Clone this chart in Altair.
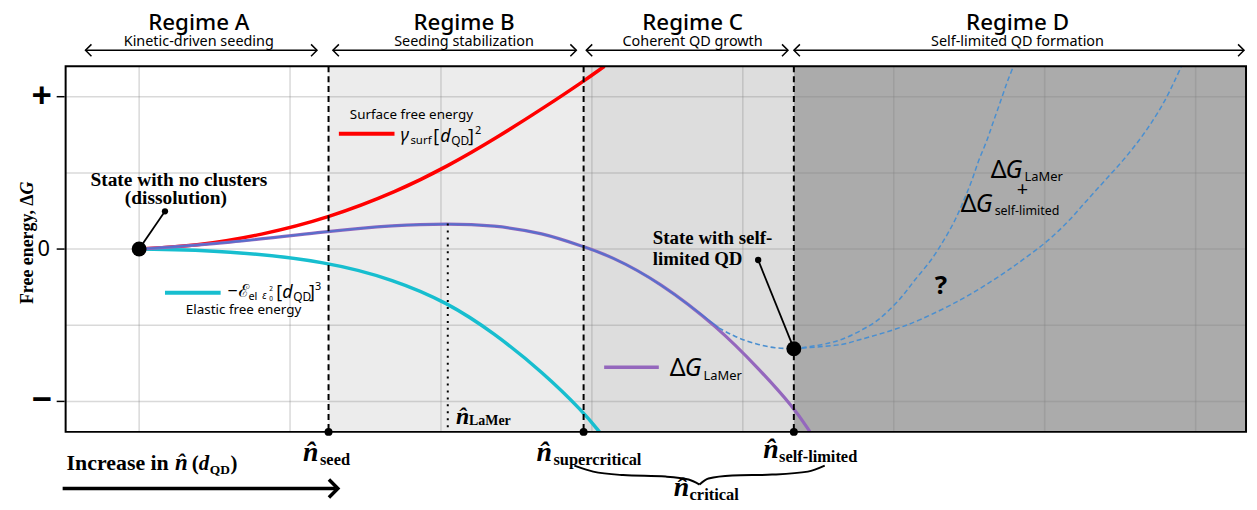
import altair as alt
import pandas as pd

# ---------------- data (x in n-hat grid steps, y in free-energy grid steps) ----------------
surf_x = [0.0, 0.373, 0.810, 1.255, 1.712, 2.041, 2.370, 2.699, 2.945, 3.083]
surf_y = [0.0, 0.039, 0.183, 0.408, 0.757, 1.083, 1.461, 1.878, 2.204, 2.400]

elastic_x = [0.0, 0.592, 1.255, 1.690, 2.041, 2.348, 2.677, 2.945, 3.050]
elastic_y = [0.0, -0.020, -0.166, -0.404, -0.700, -1.096, -1.621, -2.142, -2.400]

lamer_x = [0.0, 0.592, 1.255, 1.690, 2.045, 2.348, 2.677, 2.945, 3.116, 3.445, 3.840, 4.103, 4.338, 4.444]
lamer_y = [0.0, 0.078, 0.235, 0.313, 0.335, 0.313, 0.213, 0.030, -0.085, -0.426, -1.034, -1.565, -2.080, -2.396]

selflim_x = [3.840, 3.950, 4.103, 4.213, 4.338]
selflim_y = [-1.034, -1.147, -1.252, -1.295, -1.308]

band_y = [-1.308, -1.252, -1.187, -1.056, -0.926, -0.665, -0.404, -0.143, 0.117, 0.378,
          0.639, 0.900, 1.161, 1.422, 1.683, 1.943, 2.204, 2.400]
band_upper_x = [4.338, 4.529, 4.654, 4.793, 4.898, 5.036, 5.141, 5.247, 5.332, 5.405,
                5.464, 5.517, 5.563, 5.616, 5.662, 5.708, 5.754, 5.793]
band_lower_x = [4.338, 4.654, 4.779, 5.003, 5.175, 5.444, 5.662, 5.853, 6.024, 6.162,
                6.280, 6.399, 6.517, 6.623, 6.715, 6.794, 6.860, 6.906]

regime_names = ["Regime A", "Regime B", "Regime C", "Regime D"]
regime_desc = ["Kinetic-driven seeding", "Seeding stabilization", "Coherent QD growth", "Self-limited QD formation"]
boundary_names = ["seed", "supercritical", "self-limited"]
boundary_x = [1.255, 2.945, 4.338]
lamer_peak = (2.045, 0.335)
start_state = (0.0, 0.0)
min_state = (4.338, -1.308)
grid_x = [0, 1, 2, 3, 4, 5, 6, 7]
grid_y = [-2, -1, 0, 1, 2]
y_ticks = [2, 0, -2]
y_tick_labels = ["+", "0", "\u2212"]
region_colors = ["#ffffff", "#ececec", "#dddddd", "#ababab"]

X_DOMAIN = [-0.487, 7.334]
Y_DOMAIN = [-2.4, 2.4]
W, H = 1188, 368
X0, Y0 = 66, 65  # page pixel of the plot origin
SANS = "Noto Sans"
SERIF = "Liberation Serif"

xs = alt.Scale(domain=X_DOMAIN, nice=False, zero=False)
ys = alt.Scale(domain=Y_DOMAIN, nice=False, zero=False)


def XQ(f):
    return alt.X(f, type="quantitative", scale=xs, axis=None)


def YQ(f):
    return alt.Y(f, type="quantitative", scale=ys, axis=None)


def px2x(px):
    return X_DOMAIN[0] + (px - X0) / W * (X_DOMAIN[1] - X_DOMAIN[0])


def px2y(py):
    return Y_DOMAIN[1] - (py - Y0) / H * (Y_DOMAIN[1] - Y_DOMAIN[0])


one = pd.DataFrame({"k": [0]})


def T(s, px, py, size=14, font=SANS, weight="normal", style="normal",
      align="left", baseline="alphabetic", angle=None):
    kw = dict(text=s, fontSize=size, font=font, fontWeight=weight, fontStyle=style,
              align=align, baseline=baseline, color="black")
    if angle is not None:
        kw["angle"] = angle
    return alt.Chart(one).mark_text(**kw).encode(x=alt.value(px - X0), y=alt.value(py - Y0))


def R(x1, y1, x2, y2, w=1.5, color="black"):
    return alt.Chart(one).mark_rule(color=color, strokeWidth=w).encode(
        x=alt.value(x1 - X0), x2=alt.value(x2 - X0), y=alt.value(y1 - Y0), y2=alt.value(y2 - Y0))


def chevron(px, py, direction, size, w):
    shape = "M-1,-1L0,0L-1,1" if direction == "right" else "M1,-1L0,0L1,1"
    return alt.Chart(one).mark_point(shape=shape, size=size, filled=False, strokeWidth=w,
                                     color="black", opacity=1).encode(
        x=alt.value(px - X0), y=alt.value(py - Y0))


def curve(xv, yv):
    return pd.DataFrame({"x": xv, "y": yv, "i": list(range(len(xv)))})


layers = []

# backgrounds of the regimes
bg = pd.DataFrame({"x0": [X_DOMAIN[0]] + boundary_x, "x1": boundary_x + [X_DOMAIN[1]], "c": region_colors})
layers.append(alt.Chart(bg).mark_rect().encode(
    x=XQ("x0"), x2="x1", y=alt.value(0), y2=alt.value(H), color=alt.Color("c:N", scale=None)))

# uncertain self-limited band
band = pd.DataFrame({"y": band_y, "xu": band_upper_x, "xl": band_lower_x, "i": list(range(len(band_y)))})
layers.append(alt.Chart(band).mark_area(orient="horizontal", interpolate="catmull-rom", color="#9dadd5",
                                        opacity=1, clip=True).encode(
    y=YQ("y"), x=XQ("xu"), x2="xl", order="i:Q"))

# grid
layers.append(alt.Chart(pd.DataFrame({"g": grid_x})).mark_rule(color="#808080", opacity=0.3, strokeWidth=1.5).encode(
    x=XQ("g"), y=alt.value(0), y2=alt.value(H)))
layers.append(alt.Chart(pd.DataFrame({"g": grid_y})).mark_rule(color="#808080", opacity=0.3, strokeWidth=1.5).encode(
    y=YQ("g"), x=alt.value(0), x2=alt.value(W)))

# curves
layers.append(alt.Chart(curve(surf_x, surf_y)).mark_line(color="#ff0000", strokeWidth=3.5, interpolate="basis",
                                                         clip=True).encode(x=XQ("x"), y=YQ("y"), order="i:Q"))
layers.append(alt.Chart(curve(elastic_x, elastic_y)).mark_line(color="#17becf", strokeWidth=3.5, interpolate="basis",
                                                               clip=True).encode(x=XQ("x"), y=YQ("y"), order="i:Q"))
layers.append(alt.Chart(curve(lamer_x, lamer_y)).mark_line(color="#9467bd", strokeWidth=3.2, interpolate="basis",
                                                           clip=True).encode(x=XQ("x"), y=YQ("y"), order="i:Q"))
n_shared = lamer_x.index(selflim_x[0]) + 1
layers.append(alt.Chart(curve(lamer_x[:n_shared], lamer_y[:n_shared])).mark_line(
    color="#4a72d0", strokeWidth=1.8, opacity=0.85, interpolate="basis").encode(x=XQ("x"), y=YQ("y"), order="i:Q"))
layers.append(alt.Chart(curve(selflim_x, selflim_y)).mark_line(
    color="#4a8fd0", strokeWidth=1.6, strokeDash=[5, 3], interpolate="monotone").encode(x=XQ("x"), y=YQ("y"), order="i:Q"))
for col in ["xu", "xl"]:
    layers.append(alt.Chart(band).mark_line(color="#4a8fd0", strokeWidth=1.5, strokeDash=[5, 3],
                                            interpolate="catmull-rom", clip=True).encode(
        x=XQ(col), y=YQ("y"), order="i:Q"))

# legend samples
layers.append(R(341, 133, 397, 133, w=4, color="#ff0000"))
layers.append(R(166, 293, 222, 293, w=4, color="#17becf"))
layers.append(R(608, 368, 663, 368, w=3.5, color="#9467bd"))

# boundaries
layers.append(alt.Chart(pd.DataFrame({"x": boundary_x, "n": boundary_names})).mark_rule(
    color="black", strokeDash=[6, 4], strokeWidth=2).encode(x=XQ("x"), y=alt.value(0), y2=alt.value(H)))
layers.append(alt.Chart(pd.DataFrame({"x": [lamer_peak[0]], "y": [lamer_peak[1]], "y2": [Y_DOMAIN[0]]})).mark_rule(
    color="black", strokeDash=[2, 5], strokeWidth=2).encode(x=XQ("x"), y=YQ("y"), y2="y2"))
layers.append(alt.Chart(pd.DataFrame({"x": boundary_x, "y": [Y_DOMAIN[0]] * 3})).mark_circle(
    size=64, color="black", opacity=1).encode(x=XQ("x"), y=YQ("y")))

# frame
layers.append(alt.Chart(one).mark_rect(fillOpacity=0, stroke="black", strokeWidth=2).encode(
    x=alt.value(0), x2=alt.value(W), y=alt.value(0), y2=alt.value(H)))

# y ticks + labels
layers.append(alt.Chart(pd.DataFrame({"y": y_ticks})).mark_rule(color="black", strokeWidth=1.5).encode(
    y=YQ("y"), x=alt.value(-9), x2=alt.value(-1)))
layers.append(alt.Chart(pd.DataFrame({"y": [y_ticks[0], y_ticks[2]], "t": [y_tick_labels[0], y_tick_labels[2]]})).mark_text(
    fontSize=36, font=SANS, fontWeight="bold", baseline="middle", align="center").encode(
    y=YQ("y"), x=alt.value(42 - X0), text="t:N"))
layers.append(alt.Chart(pd.DataFrame({"y": [y_ticks[1]], "t": [y_tick_labels[1]]})).mark_text(
    fontSize=22, font=SANS, baseline="middle", align="center").encode(
    y=YQ("y"), x=alt.value(44 - X0), text="t:N"))

# state pointers
ptr_start_end = (px2x(166), px2y(211))
ptr_min_end = (px2x(763), px2y(260))
ptr = pd.DataFrame({"x": [start_state[0], min_state[0]], "y": [start_state[1], min_state[1]],
                    "x2": [ptr_start_end[0], ptr_min_end[0]], "y2": [ptr_start_end[1], ptr_min_end[1]]})
layers.append(alt.Chart(ptr).mark_rule(color="black", strokeWidth=1.8).encode(x=XQ("x"), y=YQ("y"), x2="x2", y2="y2"))
layers.append(alt.Chart(ptr).mark_circle(size=40, color="black", opacity=1).encode(x=XQ("x2"), y=YQ("y2")))
layers.append(alt.Chart(ptr).mark_circle(size=225, color="black", opacity=1).encode(x=XQ("x"), y=YQ("y")))

# header
centers = [200, 467, 697, 1024]
spans = [(86, 319), (335, 580), (590, 793), (799, 1252)]
for name, desc, cx, (a, b) in zip(regime_names, regime_desc, centers, spans):
    layers.append(T(name, cx, 29, 22.5, SANS, weight=500, align="center"))
    layers.append(T(desc, cx, 44.5, 14.5, SANS, align="center"))
    layers.append(R(a, 49, b, 49, w=1.5))
    layers.append(chevron(a, 49, "left", 144, 1.5))
    layers.append(chevron(b, 49, "right", 144, 1.5))

# surface free energy label
layers.append(T("Surface free energy", 352, 114, 13.5, SANS, baseline="middle"))
layers.append(T("\u03b3", 403, 140, 18, SANS, style="italic"))
layers.append(T("surf", 413, 143, 11.5, SANS))
layers.append(T("[", 436, 141, 18, SANS))
layers.append(T("d", 443, 141, 18, SANS, style="italic"))
layers.append(T("QD", 454, 144, 12, SANS))
layers.append(T("]", 471, 141, 18, SANS))
layers.append(T("2", 478, 133, 11, SANS))

# elastic label
layers.append(T("\u2212", 229, 297, 18, SANS))
layers.append(T("\u2130", 240, 297, 18, SANS, style="italic"))
layers.append(T("el", 250, 300, 11, SANS))
layers.append(T("\u03b5", 264, 299, 10, SANS, style="italic"))
layers.append(T("2", 271, 291, 6.5, SANS))
layers.append(T("0", 271, 301, 6.5, SANS))
layers.append(T("[", 278, 298, 18, SANS))
layers.append(T("d", 284, 298, 18, SANS, style="italic"))
layers.append(T("QD", 295, 301, 12, SANS))
layers.append(T("]", 311, 298, 18, SANS))
layers.append(T("3", 317, 290, 11, SANS))
layers.append(T("Elastic free energy", 187, 310, 13.5, SANS, baseline="middle"))

# LaMer label
layers.append(T("\u0394", 674, 377, 25, SANS))
layers.append(T("G", 689, 377, 25, SANS, style="italic"))
layers.append(T("LaMer", 708, 381, 13, SANS))

# band label
layers.append(T("\u0394", 997, 177, 25, SANS))
layers.append(T("G", 1012, 177, 25, SANS, style="italic"))
layers.append(T("LaMer", 1031, 181, 13, SANS))
layers.append(T("+", 1029, 190, 20, SANS, align="center", baseline="middle"))
layers.append(T("\u0394", 967, 212, 25, SANS))
layers.append(T("G", 982, 212, 25, SANS, style="italic"))
layers.append(T("self-limited", 1001, 215, 12.5, SANS))
layers.append(T("?", 947, 286, 26, SANS, weight="bold", align="center", baseline="middle"))

# state annotations
layers.append(T("State with no clusters", 180, 180, 19.5, SERIF, weight="bold", align="center", baseline="middle"))
layers.append(T("(dissolution)", 177, 198, 19.5, SERIF, weight="bold", align="center", baseline="middle"))
layers.append(T("State with self-", 657, 238, 19, SERIF, weight="bold", baseline="middle"))
layers.append(T("limited QD", 657, 259, 19, SERIF, weight="bold", baseline="middle"))

# n-hat labels
NH = "n\u0302"
layers.append(T(NH, 459, 425, 24, SERIF, weight="bold", style="italic"))
layers.append(T("LaMer", 472, 426, 14, SERIF, weight="bold"))
for (nx, ny, sx, sy, s) in [(305, 462, 322, 466, boundary_names[0]),
                            (540, 462, 557, 466, boundary_names[1]),
                            (768, 459, 784, 463, boundary_names[2]),
                            (678, 498, 694, 502, "critical")]:
    layers.append(T(NH, nx, ny, 28, SERIF, weight="bold", style="italic"))
    layers.append(T(s, sx, sy, 16.5, SERIF, weight="bold"))

# brace under the critical range
brace_px = [(578, 467), (597, 473), (627, 476.5), (670, 478), (693, 481), (704, 486)]
brace_px2 = [(704, 486), (713, 480), (737, 477), (777, 476), (813, 473), (830, 467)]
brace = pd.DataFrame({
    "x": [px2x(p[0]) for p in brace_px + brace_px2],
    "y": [px2y(p[1]) for p in brace_px + brace_px2],
    "g": ["l"] * len(brace_px) + ["r"] * len(brace_px2),
    "i": list(range(len(brace_px) + len(brace_px2))),
})
layers.append(alt.Chart(brace).mark_line(color="black", strokeWidth=2, interpolate="monotone").encode(
    x=XQ("x"), y=YQ("y"), detail="g:N", order="i:Q"))

# increase arrow
layers.append(T("Increase in", 67, 471, 22, SERIF, weight="bold"))
layers.append(T(NH, 176, 471, 23, SERIF, weight="bold", style="italic"))
layers.append(T("(", 193, 471, 21, SERIF, weight="bold"))
layers.append(T("d", 200, 471, 21, SERIF, weight="bold", style="italic"))
layers.append(T("QD", 211, 475, 13.5, SERIF, weight="bold"))
layers.append(T(")", 232, 471, 21, SERIF, weight="bold"))
layers.append(R(63, 490, 338, 490, w=3.5))
layers.append(chevron(340, 490, "right", 324, 3.5))

# y title
layers.append(T("Free energy, \u0394", 28, 194, 18, SERIF, weight="bold", align="right", baseline="middle", angle=270))
layers.append(T("G", 28, 194, 18, SERIF, weight="bold", style="italic", align="left", baseline="middle", angle=270))

chart = alt.layer(*layers).properties(
    width=W, height=H,
    autosize=alt.AutoSizeParams(type="none"),
    padding={"left": X0 - 8, "top": Y0 - 8, "right": 3, "bottom": 75},
).configure_view(stroke=None)

chart.save("out.html", embed_options={"renderer": "svg", "actions": False})
